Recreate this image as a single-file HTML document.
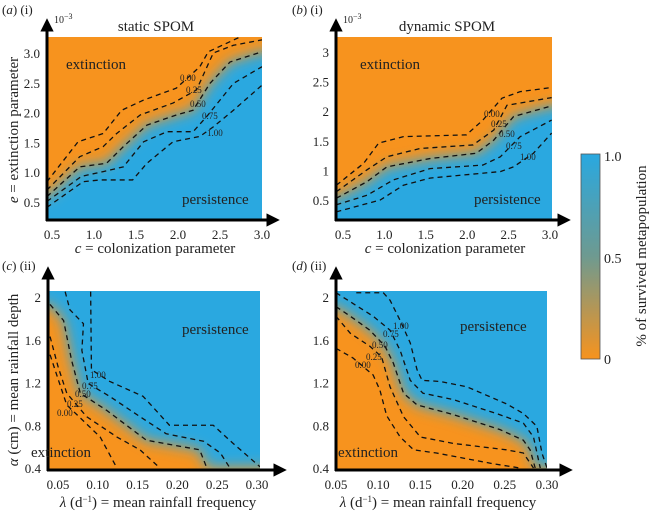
<!DOCTYPE html>
<html><head><meta charset="utf-8">
<style>
html,body{margin:0;padding:0;background:#fff;}
svg{display:block;font-family:"Liberation Serif",serif;}
svg text{font-family:"Liberation Serif","Times New Roman",serif;}
</style></head>
<body>
<svg id="fig" width="652" height="514" viewBox="0 0 652 514" xmlns="http://www.w3.org/2000/svg">
<defs>
<filter id="blur" x="-20%" y="-20%" width="140%" height="140%"><feGaussianBlur stdDeviation="7"/></filter>
<linearGradient id="cbar" x1="0" y1="1" x2="0" y2="0">
<stop offset="0" stop-color="#F7931E"/><stop offset="0.5" stop-color="#6E9A90"/><stop offset="1" stop-color="#29A8E0"/>
</linearGradient>
<marker id="ah" viewBox="0 0 10 10" refX="2" refY="5" markerWidth="4.5" markerHeight="4.5" orient="auto"><path d="M0,0 L10,5 L0,10 z" fill="#000"/></marker>
</defs>
</svg>
<script>
// ---------- data ----------
const panelAContourLevels = ["0.00","0.25","0.50","0.75","1.00"];
const aC0 = [[0.44,0.84],[0.81,1.51],[1.11,1.65],[1.33,2.04],[1.59,2.21],[1.98,2.41],[2.26,2.77],[2.36,3.02],[2.74,3.27]];
const aC25 = [[0.44,0.70],[0.83,1.26],[1.11,1.43],[1.27,1.65],[1.55,1.96],[1.94,2.16],[2.22,2.38],[2.42,3.0],[2.66,3.13],[3.0,3.22]];
const aC50 = [[0.44,0.59],[0.83,1.09],[1.15,1.15],[1.35,1.43],[1.63,1.79],[1.98,1.96],[2.18,2.04],[2.38,2.49],[2.62,2.85],[3.0,3.02]];
const aC75 = [[0.44,0.51],[0.85,0.93],[1.11,1.01],[1.35,1.09],[1.59,1.51],[1.87,1.68],[2.18,1.68],[2.34,1.93],[2.66,2.49],[3.0,2.77]];
const aC100 = [[0.44,0.41],[0.87,0.84],[1.07,0.87],[1.46,0.87],[1.63,1.15],[1.94,1.51],[2.26,1.60],[2.42,1.76],[2.66,2.04],[3.0,2.46]];

const bC0 = [[0.42,0.75],[0.75,1.12],[0.93,1.46],[1.23,1.57],[1.99,1.60],[2.19,1.85],[2.42,2.22],[2.64,2.33],[3.02,2.40]];
const bC25 = [[0.42,0.64],[0.79,1.01],[1.03,1.23],[1.43,1.37],[2.07,1.43],[2.32,1.68],[2.48,2.10],[3.02,2.23]];
const bC50 = [[0.42,0.53],[0.79,0.81],[1.03,1.06],[1.55,1.20],[2.11,1.29],[2.32,1.51],[2.56,1.91],[3.02,2.09]];
const bC75 = [[0.42,0.42],[0.79,0.58],[1.11,0.84],[1.55,1.03],[2.19,1.09],[2.40,1.23],[2.64,1.57],[3.02,1.85]];
const bC100 = [[0.42,0.30],[0.95,0.50],[1.23,0.75],[1.55,0.87],[2.40,0.98],[2.56,1.06],[2.80,1.29],[3.02,1.63]];

const cC100 = [[0.091,2.05],[0.092,1.32],[0.115,1.21],[0.157,1.07],[0.19,0.80],[0.245,0.80],[0.27,0.63],[0.304,0.41]];
const cC75 = [[0.059,2.05],[0.065,1.88],[0.082,1.75],[0.080,1.50],[0.088,1.19],[0.115,1.07],[0.153,0.88],[0.186,0.72],[0.233,0.65],[0.254,0.54],[0.266,0.40]];
const cC50 = [[0.04,1.93],[0.057,1.78],[0.067,1.41],[0.078,1.10],[0.111,0.94],[0.161,0.66],[0.228,0.57],[0.237,0.40]];
const cC25 = [[0.04,1.63],[0.05,1.35],[0.061,1.10],[0.086,0.88],[0.124,0.69],[0.153,0.57],[0.178,0.40]];
const cC0 = [[0.04,1.46],[0.052,1.19],[0.061,0.99],[0.103,0.69],[0.124,0.40]];

const dC100 = [[0.074,2.04],[0.106,2.04],[0.114,1.97],[0.126,1.78],[0.138,1.57],[0.146,1.32],[0.152,1.22],[0.173,1.21],[0.205,1.16],[0.252,1.0],[0.272,0.91],[0.288,0.79],[0.294,0.54],[0.30,0.40]];
const dC75 = [[0.05,2.04],[0.07,1.94],[0.094,1.82],[0.114,1.69],[0.126,1.50],[0.138,1.22],[0.153,1.10],[0.189,1.04],[0.24,0.91],[0.272,0.82],[0.284,0.69],[0.292,0.40]];
const dC50 = [[0.05,1.91],[0.067,1.82],[0.09,1.69],[0.108,1.54],[0.118,1.38],[0.13,1.10],[0.146,0.99],[0.189,0.90],[0.244,0.76],[0.272,0.66],[0.28,0.57],[0.286,0.40]];
const dC25 = [[0.05,1.82],[0.067,1.66],[0.09,1.54],[0.104,1.44],[0.114,1.16],[0.13,0.88],[0.15,0.69],[0.189,0.63],[0.252,0.57],[0.272,0.54],[0.284,0.40]];
const dC0 = [[0.05,1.52],[0.07,1.43],[0.094,1.27],[0.102,1.13],[0.11,0.89],[0.126,0.69],[0.142,0.57],[0.169,0.54],[0.236,0.44],[0.268,0.40]];

const xTicksTop = [0.5,1.0,1.5,2.0,2.5,3.0];
const xTickLabelsTop = ["0.5","1.0","1.5","2.0","2.5","3.0"];
const yTicksA = [0.5,1.0,1.5,2.0,2.5,3.0];
const yTickLabelsA = ["0.5","1.0","1.5","2.0","2.5","3.0"];
const yTicksB = [0.5,1,1.5,2,2.5,3];
const yTickLabelsB = ["0.5","1","1.5","2","2.5","3"];
const xTicksBot = [0.05,0.10,0.15,0.20,0.25,0.30];
const xTickLabelsBot = ["0.05","0.10","0.15","0.20","0.25","0.30"];
const yTicksBot = [0.4,0.8,1.2,1.6,2];
const yTickLabelsBot = ["0.4","0.8","1.2","1.6","2"];

// ---------- helpers ----------
const NS = "http://www.w3.org/2000/svg";
const svg = document.getElementById('fig');
function mk(tag, attrs, parent){ const e=document.createElementNS(NS,tag); for(const k in attrs) e.setAttribute(k,attrs[k]); (parent||svg).appendChild(e); return e; }
function lin(d0,d1,r0,r1){ return v => r0 + (v-d0)*(r1-r0)/(d1-d0); }
const ORANGE="#F7931E", BLUE="#29A8E0";

function panel(cfg){
  const g = mk('g',{});
  
  
  const sx = lin(cfg.xd[0],cfg.xd[1],cfg.xr[0],cfg.xr[1]);
  const sy = lin(cfg.yd[0],cfg.yd[1],cfg.yr[0],cfg.yr[1]);
  const L=cfg.plot[0], T=cfg.plot[1], R=cfg.plot[2], B=cfg.plot[3];
  const cid = 'clip-'+cfg.name;
  const cp = mk('clipPath',{id:cid},svg.querySelector('defs'));
  mk('rect',{x:L,y:T,width:R-L,height:B-T},cp);
  const inner = mk('g',{'clip-path':'url(#'+cid+')'},g);
  const bg = mk('rect',{x:L,y:T,width:R-L,height:B-T,fill:cfg.bgColor},inner);
  
  
  let pts = cfg.mid.map(p=>sx(p[0])+','+sy(p[1]));
  const extra = cfg.closeUp ? [[R+20,sy(cfg.mid[cfg.mid.length-1][1])],[R+20,T-20],[L-20,T-20],[L-20,sy(cfg.mid[0][1])]]
                            : [[R+20,sy(cfg.mid[cfg.mid.length-1][1])],[R+20,B+20],[L-20,B+20],[L-20,sy(cfg.mid[0][1])]];
  pts = pts.concat(extra.map(p=>p[0]+','+p[1]));
  const reg = mk('polygon',{points:pts.join(' '),fill:cfg.fgColor,filter:'url(#blur)'},inner);
  
  
  cfg.contours.forEach((c,i)=>{
    const pl = mk('polyline',{points:c.map(p=>sx(p[0])+','+sy(p[1])).join(' '),fill:'none',stroke:'#111','stroke-width':1.3,'stroke-dasharray':'5,4','stroke-linejoin':'round'},inner);
    
    
  });
  const ox=cfg.axis[0], oy=cfg.axis[1];
  const ya = mk('line',{x1:ox,y1:oy+1,x2:ox,y2:cfg.yTip+9,stroke:'#000','stroke-width':3,'marker-end':'url(#ah)'},g);
  
  
  const xa = mk('line',{x1:ox-1,y1:oy,x2:cfg.xTip-9,y2:oy,stroke:'#000','stroke-width':3,'marker-end':'url(#ah)'},g);
  
  
  cfg.xt.forEach((v,i)=>{
    const t = mk('text',{x:sx(v),y:oy+19,'font-size':13,'text-anchor':'middle',fill:'#222'},g);
    t.textContent = cfg.xtl[i];
    
    
  });
  cfg.yt.forEach((v,i)=>{
    const t = mk('text',{x:ox-7,y:sy(v)+5,'font-size':13,'text-anchor':'end',fill:'#222'},g);
    t.textContent = cfg.ytl[i];
    
    
  });
}

panel({name:'panel-a',xd:[0.5,3.0],xr:[52,262],yd:[0.5,3.0],yr:[202,53],plot:[47,37,262,220],axis:[47,220],yTip:20,xTip:278,
  bgColor:ORANGE,fgColor:BLUE,mid:aC50,closeUp:false,contours:[aC0,aC25,aC50,aC75,aC100],levels:panelAContourLevels,
  xt:xTicksTop,xtl:xTickLabelsTop,yt:yTicksA,ytl:yTickLabelsA});
panel({name:'panel-b',xd:[0.5,3.0],xr:[343,550],yd:[0.5,3.0],yr:[200,52],plot:[336,37,552,220],axis:[336,220],yTip:20,xTip:569,
  bgColor:ORANGE,fgColor:BLUE,mid:bC50,closeUp:false,contours:[bC0,bC25,bC50,bC75,bC100],levels:panelAContourLevels,
  xt:xTicksTop,xtl:xTickLabelsTop,yt:yTicksB,ytl:yTickLabelsB});
panel({name:'panel-c',xd:[0.05,0.30],xr:[58,257],yd:[0.4,2.0],yr:[468,297],plot:[48,291,260,470],axis:[48,470],yTip:268,xTip:285,
  bgColor:ORANGE,fgColor:BLUE,mid:cC50,closeUp:true,contours:[cC0,cC25,cC50,cC75,cC100],levels:panelAContourLevels,
  xt:xTicksBot,xtl:xTickLabelsBot,yt:yTicksBot,ytl:yTickLabelsBot});
panel({name:'panel-d',xd:[0.05,0.30],xr:[336,547],yd:[0.4,2.0],yr:[468,297],plot:[336,291,547,470],axis:[336,470],yTip:268,xTip:571,
  bgColor:ORANGE,fgColor:BLUE,mid:dC50,closeUp:true,contours:[dC0,dC25,dC50,dC75,dC100],levels:panelAContourLevels,
  xt:xTicksBot,xtl:xTickLabelsBot,yt:yTicksBot,ytl:yTickLabelsBot});
</script>
<script>
(function(){
const NS="http://www.w3.org/2000/svg", svg=document.getElementById('fig');
function t(x,y,s,txt,name,extra){const e=document.createElementNS(NS,'text');e.setAttribute('x',x);e.setAttribute('y',y);e.setAttribute('font-size',s);e.setAttribute('fill','#222');
 if(extra)for(const k in extra)e.setAttribute(k,extra[k]);e.innerHTML=txt;
 
 
 svg.appendChild(e);return e;}
t(2,14,13,'(<tspan font-style="italic">a</tspan>) (i)','panel-a-label');
t(292,14,13,'(<tspan font-style="italic">b</tspan>) (i)','panel-b-label');
t(2,270,13,'(<tspan font-style="italic">c</tspan>) (ii)','panel-c-label');
t(292,270,13,'(<tspan font-style="italic">d</tspan>) (ii)','panel-d-label');
t(54,23,10,'10<tspan dy="-4" font-size="8">−3</tspan>','panel-a-y-scale');
t(343,23,10,'10<tspan dy="-4" font-size="8">−3</tspan>','panel-b-y-scale');
t(156,31,15,'static SPOM','panel-a-title',{'text-anchor':'middle'});
t(447,31,15,'dynamic SPOM','panel-b-title',{'text-anchor':'middle'});
t(155,253,15,'<tspan font-style="italic">c</tspan> = colonization parameter','panel-a-x-title',{'text-anchor':'middle'});
t(445,253,15,'<tspan font-style="italic">c</tspan> = colonization parameter','panel-b-x-title',{'text-anchor':'middle'});
t(158,507,15,'<tspan font-style="italic">λ</tspan> (d<tspan dy="-5" font-size="9">−1</tspan><tspan dy="5">) = mean rainfall frequency</tspan>','panel-c-x-title',{'text-anchor':'middle'});
t(438,507,15,'<tspan font-style="italic">λ</tspan> (d<tspan dy="-5" font-size="9">−1</tspan><tspan dy="5">) = mean rainfall frequency</tspan>','panel-d-x-title',{'text-anchor':'middle'});
t(0,0,15,'<tspan font-style="italic">e</tspan> = extinction parameter','panel-a-y-title',{'text-anchor':'middle',transform:'translate(18,130) rotate(-90)'});
t(0,0,15,'<tspan font-style="italic">α</tspan> (cm) = mean rainfall depth','panel-c-y-title',{'text-anchor':'middle',transform:'translate(18,380) rotate(-90)'});
t(66,69,15,'extinction','panel-a-extinction-label');
t(182,204,15,'persistence','panel-a-persistence-label');
t(360,69,15,'extinction','panel-b-extinction-label');
t(474,204,15,'persistence','panel-b-persistence-label');
t(182,334,15,'persistence','panel-c-persistence-label');
t(31,457,15,'extinction','panel-c-extinction-label');
t(460,331,15,'persistence','panel-d-persistence-label');
t(338,457,15,'extinction','panel-d-extinction-label');
const cl=["0.00","0.25","0.50","0.75","1.00"];
[[180,81],[186,93],[190,107],[202,119],[207,136]].forEach((p,i)=>t(p[0],p[1],9,cl[i],'panel-a-contour-label'));
[[484,117],[491,127],[499,137],[506,149],[520,160]].forEach((p,i)=>t(p[0],p[1],9,cl[i],'panel-b-contour-label'));
[[57,416],[67,407],[75,397],[82,389],[90,378]].forEach((p,i)=>t(p[0],p[1],9,cl[i],'panel-c-contour-label'));
[[355,368],[366,360],[372,348],[383,337],[393,329]].forEach((p,i)=>t(p[0],p[1],9,cl[i],'panel-d-contour-label'));
const r=document.createElementNS(NS,'rect');
r.setAttribute('x',581);r.setAttribute('y',154);r.setAttribute('width',19);r.setAttribute('height',205);
r.setAttribute('fill','url(#cbar)');r.setAttribute('stroke','#555');r.setAttribute('stroke-width','0.8');


svg.appendChild(r);
t(604,161,14,'1.0','colorbar-tick-1');
t(604,263,14,'0.5','colorbar-tick-0.5');
t(604,364,14,'0','colorbar-tick-0');
t(0,0,15,'% of survived metapopulation','colorbar-title',{'text-anchor':'middle',transform:'translate(646,256) rotate(-90)'});
})();
</script>
</body></html>
